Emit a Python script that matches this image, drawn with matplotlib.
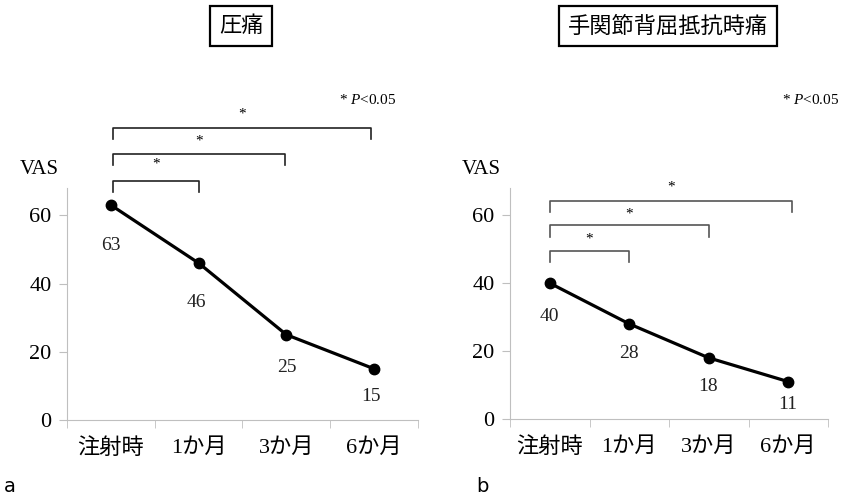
import numpy as np
import matplotlib.pyplot as plt

plt.rcParams['mathtext.fontset'] = 'custom'
plt.rcParams['mathtext.it'] = 'Liberation Serif:italic'
plt.rcParams['mathtext.rm'] = 'Liberation Serif'

# データ
categories = ['注射時', '1か月', '3か月', '6か月']
vas_a = [63, 46, 25, 15]      # 圧痛
vas_b = [40, 28, 18, 11]      # 手関節背屈抵抗時痛
title_a = '圧痛'
title_b = '手関節背屈抵抗時痛'
yticks = [0, 20, 40, 60]

serif_jp = ['Liberation Serif', 'Noto Sans CJK JP']
gray = '#bfbfbf'

fig = plt.figure(figsize=(8.43, 5.01), dpi=100)
ax_a = fig.add_axes([67/843, 81/501, 351/843, 232/501])
ax_b = fig.add_axes([510/843, 82/501, 318/843, 231/501])


def panel(ax, vals, label_off, brackets, star_c):
    x = np.arange(len(vals))
    ax.plot(x, vals, color='black', lw=2.3, marker='o', ms=7.5, zorder=3)
    for xi, v, off in zip(x, vals, label_off):
        ax.annotate(str(v), (xi, v), xytext=(off[0], -off[1]),
                    textcoords='offset pixels', ha='center', va='center',
                    fontsize=14, family=serif_jp, color='#222222')
    ax.set_xlim(-0.5, 3.5)
    ax.set_ylim(0, 68)
    ax.set_yticks(yticks)
    ax.set_yticklabels([str(t) for t in yticks], family=serif_jp, fontsize=16)
    ax.set_xticks(x)
    ax.set_xticklabels(categories, family=serif_jp, fontsize=16)
    ax.set_xticks(np.arange(-0.5, 4, 1), minor=True)
    ax.tick_params(axis='x', which='major', length=0, pad=13)
    ax.tick_params(axis='x', which='minor', length=6, color=gray)
    ax.tick_params(axis='y', length=6, color=gray, pad=5)
    for s in ['top', 'right']:
        ax.spines[s].set_visible(False)
    for s in ['left', 'bottom']:
        ax.spines[s].set_color(gray)
    # 有意差のブラケット
    for (x0, x1, y), ys in zip(brackets, star_c):
        ax.plot([x0, x0, x1, x1], [y - 3.3, y, y, y - 3.3],
                color=ax_color, lw=1.2, clip_on=False)
        ax.text((x0 + x1) / 2, ys, '*', ha='center', va='center',
                fontsize=11, family=serif_jp)


ax_color = '#222222'
panel(ax_a, vas_a, [(0, 40), (-2, 39), (0, 33), (-3, 28)],
      [(0.02, 1.0, 70), (0.02, 1.99, 78), (0.02, 2.97, 85.6)],
      [75, 81.8, 89.7])
ax_color = '#555555'
panel(ax_b, vas_b, [(0, 33), (0, 30), (-1, 29), (-1, 23)],
      [(0.0, 1.0, 49.4), (0.0, 2.0, 57), (0.0, 3.05, 64.3)],
      [53, 60.2, 68.4])

# VAS ラベル
fig.text(39/843, 1 - 170/501, 'VAS', ha='center', va='center',
         fontsize=15, family=serif_jp)
fig.text(481/843, 1 - 170/501, 'VAS', ha='center', va='center',
         fontsize=15, family=serif_jp)

# P値の注釈
fig.text(368/843, 1 - 100/501, '* $\\it{P}$<0.05', ha='center', va='center',
         fontsize=11, family='Liberation Serif')
fig.text(811/843, 1 - 100/501, '* $\\it{P}$<0.05', ha='center', va='center',
         fontsize=11, family='Liberation Serif')

# タイトル
box = dict(boxstyle='square,pad=0.4', fc='white', ec='black', lw=1.6)
fig.text(241/843, 1 - 26/501, title_a, ha='center', va='center',
         fontsize=16, family='Noto Sans CJK JP', bbox=box)
fig.text(668/843, 1 - 26/501, title_b, ha='center', va='center',
         fontsize=16, family='Noto Sans CJK JP', bbox=box)

fig.text(10/843, 1 - 487/501, 'a', ha='center', va='center', fontsize=14,
         family='DejaVu Sans')
fig.text(482/843, 1 - 487/501, 'b', ha='center', va='center', fontsize=14,
         family='DejaVu Sans')

fig.savefig('out.png', dpi=100)
